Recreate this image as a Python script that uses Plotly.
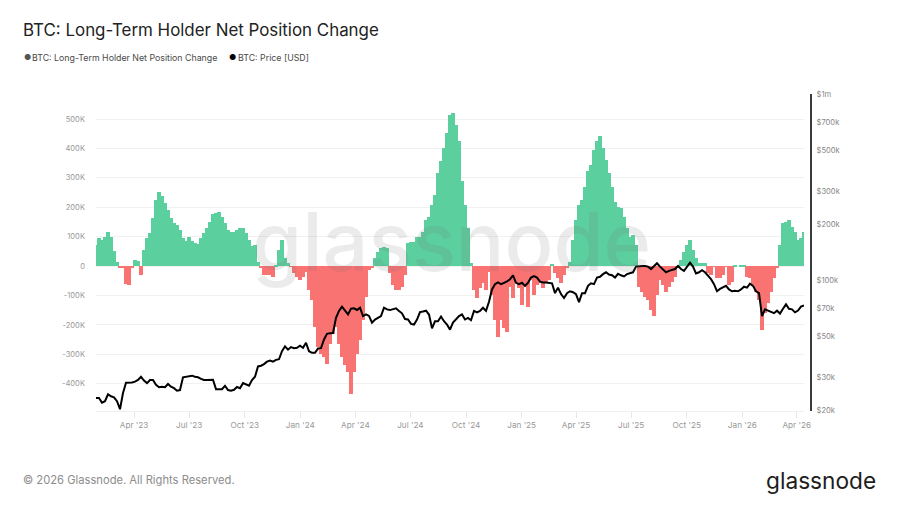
"""
BTC long-term holder net position change against price.
"""

import numpy as np
import pandas as pd
import plotly.graph_objects as go

FONT = "Inter, sans-serif"
GREEN = "#5ccf9f"
RED = "#f97373"

net_position_k = [
    70, 95, 90, 100, 117, 100, 50, 15, -5, -5,
    -62, -66, -5, 20, 18, -30, 55, 95, 113, 162,
    225, 252, 238, 213, 190, 162, 145, 140, 122, 95,
    85, 98, 86, 77, 75, 94, 111, 128, 150, 178,
    182, 185, 168, 145, 122, 117, 117, 122, 130, 130,
    111, 88, 69, 70, 15, -5, -30, -30, -30, -36,
    5, 55, 88, 26, 10, -2, -25, -36, -48, -36,
    -20, -82, -116, -207, -275, -298, -309, -332, -264, -230,
    -207, -264, -309, -337, -360, -434, -360, -298, -252, -184,
    -105, -14, -5, 26, 49, 60, 66, 60, -25, -65,
    -82, -82, -70, -30, 77, 83, 83, 100, 100, 117,
    157, 168, 208, 242, 316, 356, 401, 452, 515, 520,
    480, 424, 288, 208, 128, 9, -82, -110, -76, -59,
    -82, -19, -99, -184, -241, -184, -212, -224, -70, -110,
    -59, -76, -133, -70, -139, -48, -99, -65, -59, -76,
    -59, -48, 8, -25, -42, -59, -31, -8, 15, 89,
    157, 208, 225, 270, 322, 344, 395, 424, 441, 401,
    361, 316, 270, 219, 202, 197, 168, 128, 100, 106,
    72, -70, -88, -105, -116, -150, -170, -99, -48, -65,
    -88, -70, -53, -36, -8, 20, 49, 72, 89, 55,
    26, 9, 11, 11, -25, -31, -2, -42, -42, -31,
    -2, -65, -53, 3, 0, 3, 3, -36, -42, -65,
    -88, -116, -218, -161, -127, -88, -42, -8, 70, 145,
    151, 157, 134, 117, 89, 94, 117,
]

# BTC price, thousands of USD, same dates
price_k = [
    23.2, 23.2, 21.9, 22.3, 24.3, 23.7, 23.4, 22.3, 20.2, 24.7,
    28, 28, 28.1, 28.4, 29, 30.2, 28.8, 27.9, 29, 29,
    27.3, 26.5, 26.7, 26.5, 27.6, 26.7, 26.2, 25.4, 25.6, 30,
    30.2, 30.2, 30.6, 30.2, 30, 29.4, 29, 29, 29.1, 29.1,
    25.9, 25.9, 25.9, 27, 25.6, 25.4, 25.7, 26.6, 26.2, 27.9,
    27.3, 27, 29, 30.2, 34.3, 34.6, 35.3, 36.4, 36.9, 36.4,
    37.2, 37.5, 41.4, 44, 42.2, 43.6, 43, 43.2, 44.3, 43.2,
    46, 41.4, 40.6, 40.6, 42.8, 43, 47.9, 51.4, 51.8, 51.9,
    62.6, 68.2, 71.9, 68.2, 65.3, 70.2, 70.4, 69, 71, 64,
    65.3, 64.1, 58.9, 61.3, 62.5, 64, 71, 69.5, 68.9, 69.5,
    70.4, 68.2, 66.2, 61.7, 61.3, 58.1, 57.6, 61.3, 67.2, 67.7,
    68.4, 65.2, 55, 60, 60, 63.6, 60, 57.6, 54.1, 59,
    61.3, 64, 65.3, 61.3, 62.5, 60.8, 68.2, 67, 68.2, 70.9,
    68.2, 76.4, 89, 95, 97, 94.9, 96.6, 98.2, 101, 106,
    96.6, 94.9, 96.6, 93, 96.6, 103, 105, 103, 98, 97,
    97, 96.5, 96, 85, 91, 84, 80, 85, 87, 86,
    84, 76, 85, 85, 93, 96, 95, 103, 104, 107.5,
    110, 107, 106, 103, 108, 106, 104.5, 107.5, 108.5, 110,
    118, 119, 119, 119, 118, 114.5, 119.5, 123, 118, 114.5,
    110, 112, 113, 114.5, 119, 114.5, 112, 118, 124, 118,
    108.5, 110, 113, 110, 106, 101, 95, 87, 89.5, 91,
    93, 89, 87, 87.5, 87, 89, 92, 91, 95.5, 93,
    87, 85, 64, 69.5, 68.5, 67, 66.3, 68.4, 66, 70,
    74, 70, 69.5, 67, 68.5, 72, 73,
]

start_date = "2023-01-28"
end_date = "2026-04-13"

net_ticks = [-400, -300, -200, -100, 0, 100, 200, 300, 400, 500]
net_tick_labels = ["-400K", "-300K", "-200K", "-100K", "0", "100K", "200K", "300K", "400K", "500K"]
price_ticks = [20000, 30000, 50000, 70000, 100000, 200000, 300000, 500000, 700000, 1000000]
price_tick_labels = ["$20k", "$30k", "$50k", "$70k", "$100k", "$200k", "$300k", "$500k", "$700k", "$1m"]

dates = pd.date_range(start_date, end_date, periods=len(net_position_k))
net = np.array(net_position_k)
price = np.array(price_k) * 1000

fig = go.Figure()

fig.add_trace(
    go.Bar(
        x=dates,
        y=net,
        name="BTC: Long-Term Holder Net Position Change",
        marker=dict(color=np.where(net >= 0, GREEN, RED).tolist(), line=dict(width=0)),
        width=5 * 24 * 3600 * 1000,
        hovertemplate="%{x|%d %b %Y}<br>%{y}K<extra></extra>",
    )
)

fig.add_trace(
    go.Scatter(
        x=dates,
        y=price,
        yaxis="y2",
        mode="lines",
        name="BTC: Price [USD]",
        line=dict(color="#000000", width=2),
        hovertemplate="%{x|%d %b %Y}<br>$%{y:,.0f}<extra></extra>",
    )
)


def px_x(px):
    # page pixels to paper fraction
    return (px - 96) / 715


def px_y(px):
    return (411 - px) / 317


def add_text(text, x, y, size, color, xanchor="left", weight=400):
    fig.add_annotation(
        text=text,
        xref="paper",
        yref="paper",
        x=px_x(x),
        y=px_y(y),
        xanchor=xanchor,
        yanchor="middle",
        showarrow=False,
        font=dict(size=size, color=color, family=FONT, weight=weight),
    )


add_text("BTC: Long-Term Holder Net Position Change", 20.5, 30.5, 16.9, "#222222")
add_text("●", 21.5, 57, 8, "#555555")
add_text("BTC: Long-Term Holder Net Position Change", 29.5, 57.5, 8.8, "#4a4a4a")
add_text("●", 227, 57, 8, "#000000")
add_text("BTC: Price [USD]", 235.5, 57.5, 8.8, "#4a4a4a")
add_text("© 2026 Glassnode. All Rights Reserved.", 20.5, 480, 11.2, "#8c8c8c")
add_text("glassnode", 763.5, 480, 22.7, "#1d1d1d")

# Watermark sits over the bars
add_text("glassnode", 250, 242, 81, "rgba(110,110,110,0.14)", weight=500)

# The page body has an 8px margin, so the figure is 16px smaller than the window
fig.update_layout(
    width=884,
    height=490,
    margin=dict(l=88, r=81, t=86, b=87),
    paper_bgcolor="white",
    plot_bgcolor="white",
    showlegend=False,
    bargap=0,
    font=dict(family=FONT),
    xaxis=dict(
        domain=[0, 708 / 715],
        range=[start_date, end_date],
        type="date",
        dtick="M3",
        tick0="2023-01-01",
        tickformat="%b '%y",
        showgrid=False,
        showline=True,
        linecolor="#efefef",
        linewidth=1,
        ticks="outside",
        ticklen=6,
        tickcolor="#e8e8e8",
        tickfont=dict(size=8.2, color="#999999"),
    ),
    yaxis=dict(
        range=[-493, 585],
        tickvals=net_ticks,
        ticktext=net_tick_labels,
        showgrid=True,
        gridcolor="#f1f1f1",
        gridwidth=1,
        zeroline=False,
        tickfont=dict(size=7.6, color="#999999"),
        ticklabelstandoff=10,
    ),
    yaxis2=dict(
        type="log",
        overlaying="y",
        anchor="free",
        position=1,
        side="right",
        range=[4.2957, 6],
        tickvals=price_ticks,
        ticktext=price_tick_labels,
        showgrid=False,
        zeroline=False,
        showline=True,
        linecolor="#3c3c3c",
        linewidth=2,
        tickfont=dict(size=7.6, color="#888888"),
        ticklabelstandoff=3,
    ),
)

fig.write_html("out.html")
